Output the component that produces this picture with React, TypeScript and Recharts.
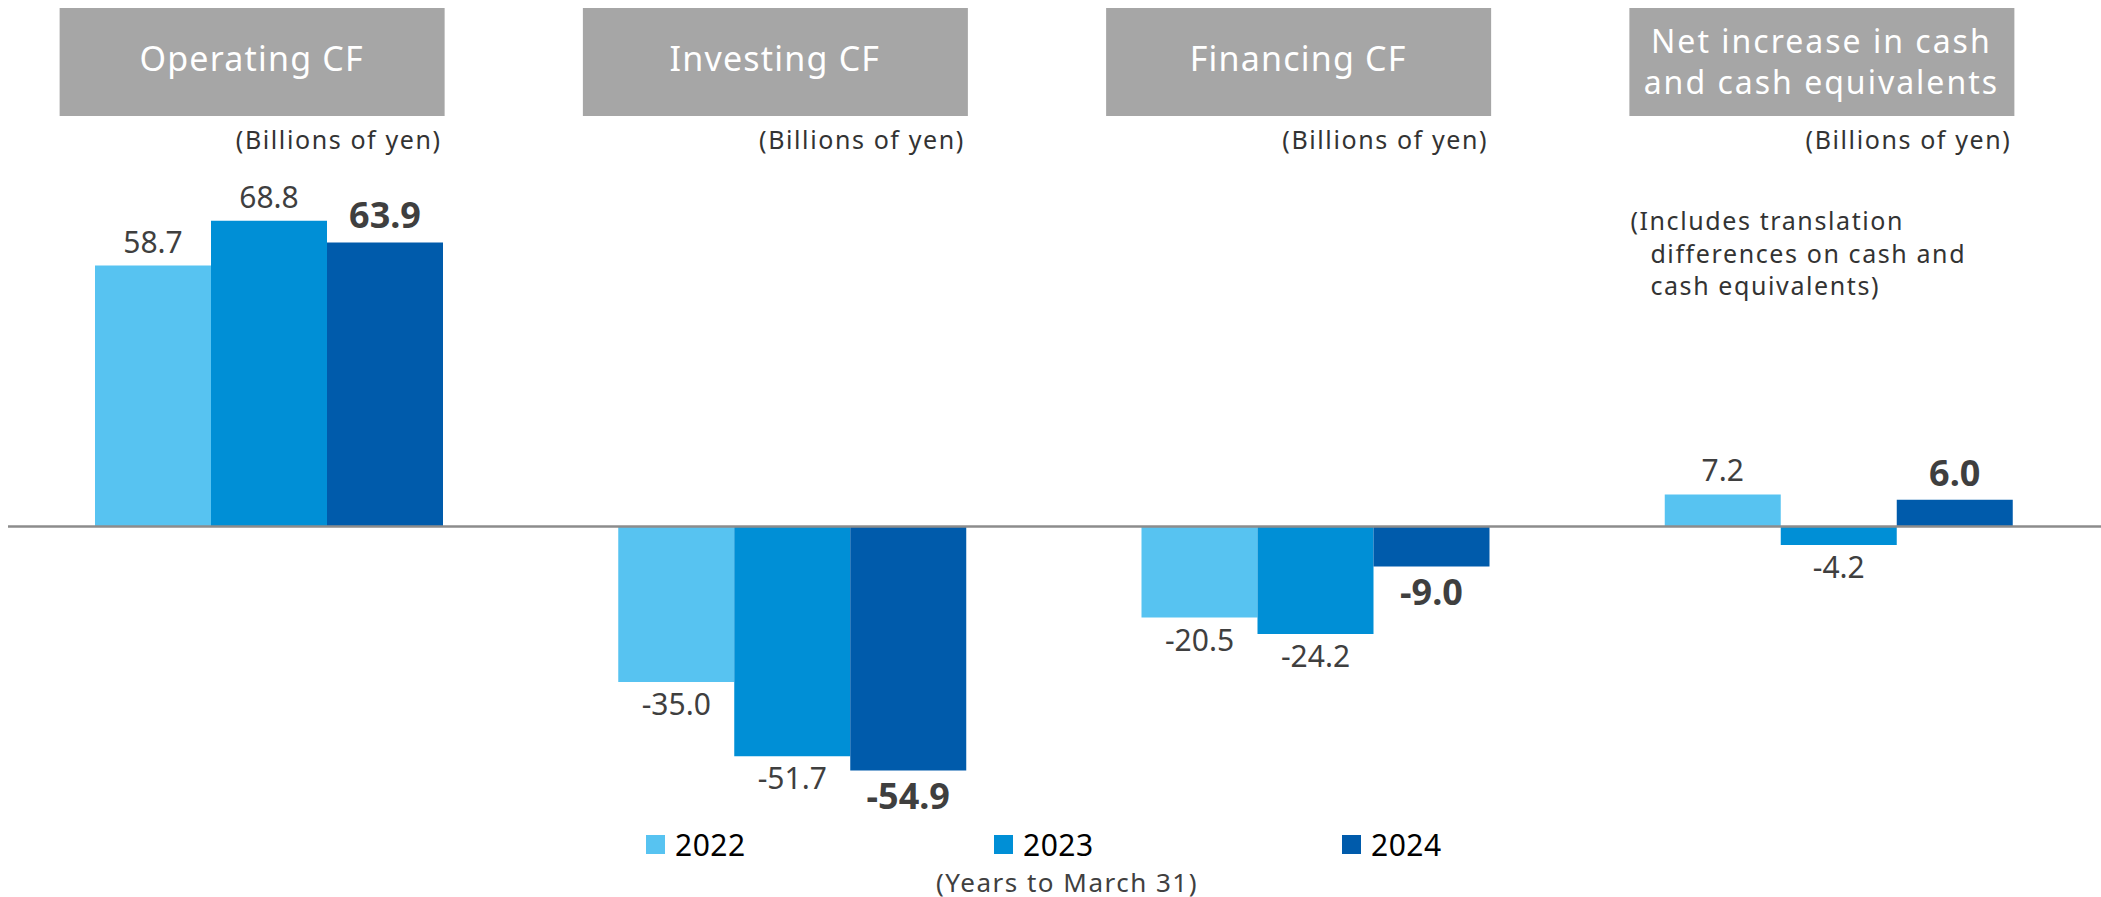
import { Bar, BarChart, LabelList, Legend, ReferenceLine, XAxis, YAxis } from "recharts";

const categories = ["Operating CF", "Investing CF", "Financing CF", "Net increase"];
const headerTitles = [
  ["Operating CF"],
  ["Investing CF"],
  ["Financing CF"],
  ["Net increase in cash", "and cash equivalents"]
];
const unitLabel = "(Billions of yen)";
const netNote = ["(Includes translation", "differences on cash and", "cash equivalents)"];
const years = ["2022", "2023", "2024"];
const values2022 = [58.7, -35.0, -20.5, 7.2];
const values2023 = [68.8, -51.7, -24.2, -4.2];
const values2024 = [63.9, -54.9, -9.0, 6.0];
const yearNote = "(Years to March 31)";

const colors = ["#57c3f1", "#008fd6", "#005bab"];
const FONT = "'Noto Sans', sans-serif";

const data = categories.map((category, i) => ({
  category,
  y2022: values2022[i],
  y2023: values2023[i],
  y2024: values2024[i]
}));

function HeaderTick(props: any) {
  const { x, index } = props;
  const left = x - 210;
  const lines = headerTitles[index] ?? [];
  return (
    <g fontFamily={FONT}>
      <rect x={left} y={8} width={385} height={108} fill="#a6a6a6" />
      {lines.length === 1 ? (
        <text x={left + 192} y={71} textAnchor="middle" fontSize={34} letterSpacing={1.2} fill="#fff">
          {lines[0]}
        </text>
      ) : (
        lines.map((l, i) => (
          <text key={l} x={left + 192} y={53 + i * 41} textAnchor="middle" fontSize={32} letterSpacing={2} fill="#fff">
            {l}
          </text>
        ))
      )}
      <text x={left + 382} y={149} textAnchor="end" fontSize={25} letterSpacing={1.6} fill="#333">
        {unitLabel}
      </text>
      {index === 3 &&
        netNote.map((l, i) => (
          <text key={l} x={left + (i === 0 ? 1 : 21)} y={230 + i * 32.5} fontSize={25} letterSpacing={1.6} fill="#333">
            {l}
          </text>
        ))}
    </g>
  );
}

function makeLabel(bold: boolean) {
  return (props: any) => {
    const { x, y, width, height, value } = props;
    const top = Math.min(y, y + height);
    const bottom = Math.max(y, y + height);
    const ty = value >= 0 ? top - (bold ? 14 : 13) : bottom + (bold ? 39 : 33);
    return (
      <text
        x={x + width / 2}
        y={ty}
        textAnchor="middle"
        fontFamily={FONT}
        fontSize={bold ? 36 : 30}
        fontWeight={bold ? 700 : 400}
        fill="#3f3f3f"
      >
        {Number(value).toFixed(1)}
      </text>
    );
  };
}

function LegendContent(props: any) {
  const payload = props.payload ?? [];
  return (
    <div style={{ position: "relative", width: 2101, height: 0, fontFamily: FONT }}>
      {payload.map((p: any, i: number) => (
        <div
          key={p.value}
          style={{
            position: "absolute",
            left: 646 + i * 348,
            top: 4,
            height: 40,
            display: "flex",
            alignItems: "center"
          }}
        >
          <span style={{ width: 19, height: 19, background: p.color, marginRight: 10 }} />
          <span style={{ fontSize: 30, color: "#000", letterSpacing: 0.5 }}>{p.value}</span>
        </div>
      ))}
      <div
        style={{
          position: "absolute",
          left: 936,
          top: 48,
          lineHeight: "28px",
          fontSize: 26,
          letterSpacing: 1.5,
          color: "#404040",
          whiteSpace: "nowrap"
        }}
      >
        {yearNote}
      </div>
    </div>
  );
}

export default function App() {
  return (
    <div style={{ position: "absolute", left: 0, top: 0, width: 2101, height: 897, background: "#fff" }}>
      <BarChart
        width={2101}
        height={897}
        data={data}
        margin={{ top: 0, right: 0, left: 8, bottom: 15 }}
        barCategoryGap={87}
        barGap={0}
      >
        <XAxis
          dataKey="category"
          orientation="top"
          height={82}
          axisLine={false}
          tickLine={false}
          interval={0}
          tick={(p: any) => <HeaderTick {...p} />}
        />
        <YAxis hide domain={[-80, 100]} allowDataOverflow />
        <Legend
          content={<LegendContent />}
          wrapperStyle={{ position: "absolute", top: 820, left: 0, width: 2101, height: 0, overflow: "visible" }}
        />
        {years.map((yr, i) => (
          <Bar key={yr} dataKey={`y${yr}`} name={yr} fill={colors[i]} isAnimationActive={false}>
            <LabelList dataKey={`y${yr}`} content={makeLabel(i === 2)} />
          </Bar>
        ))}
        <ReferenceLine y={0} stroke="#8c8c8c" strokeWidth={2.5} />
      </BarChart>
    </div>
  );
}
